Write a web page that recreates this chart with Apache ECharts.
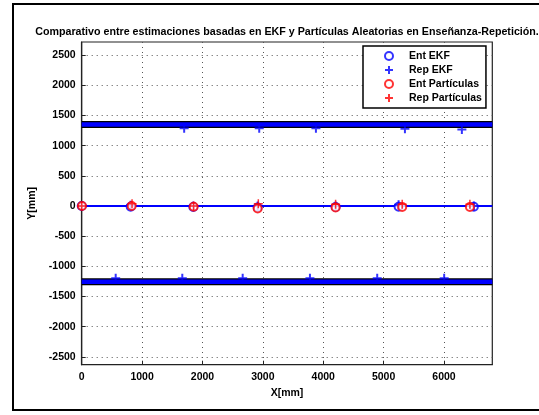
<!DOCTYPE html>
<html><head><meta charset="utf-8">
<script src="https://cdn.jsdelivr.net/npm/echarts@6/dist/echarts.min.js"></script>
<style>html,body{margin:0;padding:0;background:#fff}#c{width:539px;height:415px}</style>
</head><body><div id="c"></div>
<script>
const titleText = 'Comparativo entre estimaciones basadas en EKF y Partículas Aleatorias en Enseñanza-Repetición.';
const xTicks = [0, 1000, 2000, 3000, 4000, 5000, 6000];
const yTicks = [-2500, -2000, -1500, -1000, -500, 0, 500, 1000, 1500, 2000, 2500];
const xRange = [0, 6800];
const yRange = [-2630, 2720];
// walls (thick bands) and middle path
const wallUpper = [[0, 1351], [6800, 1351]];
const wallLower = [[0, -1253], [6800, -1253]];
const midPath = [[0, 0], [6800, 0]];
// series
const entEKF = [[0, 0], [811, -10], [1848, -15], [2914, -25], [4205, -15], [5248, -10], [6495, -10]];
const repEKF = [[1697, 1290], [2940, 1290], [3879, 1290], [5353, 1280], [6296, 1270],
                [563, -1195], [1666, -1195], [2666, -1195], [3780, -1195], [4894, -1195], [6003, -1195],
                [0, 0], [811, 15], [1848, 0], [2914, 0], [4205, 0], [5248, 20], [6495, 0]];
const entPart = [[5, 0], [828, 0], [1854, -10], [2914, -40], [4205, -25], [5308, -15], [6429, -15]];
const repPart = [[0, 0], [834, 40], [1854, 0], [2925, 40], [4205, 30], [5308, 30], [6429, 30]];

const plusPath = 'path://M5,0L5,10M0,5L10,5';
const font = '"Liberation Sans", Arial, sans-serif';
const fmt = v => String(v);
const chart = echarts.init(document.getElementById('c'), null, {renderer: 'canvas'});
chart.setOption({
  animation: false,
  backgroundColor: '#fff',
  title: {text: titleText, left: 282, top: 22, textAlign: 'center',
    textStyle: {fontFamily: font, fontSize: 10.7, fontWeight: 'bold', color: '#000'}},
  graphic: [{type: 'rect', shape: {x: 13, y: 4, width: 540, height: 406},
    style: {fill: 'none', stroke: '#000', lineWidth: 2}, z: -10}],
  grid: {left: 81.7, right: 46.7, top: 42, bottom: 50.3, show: true, borderColor: '#222', borderWidth: 1.2, backgroundColor: 'transparent'},
  legend: {
    orient: 'vertical', left: 363, top: 46, padding: [4, 4, 4, 21], itemGap: 2,
    itemWidth: 8, itemHeight: 8,
    backgroundColor: '#fff', borderColor: '#000', borderWidth: 1.5,
    textStyle: {fontFamily: font, fontSize: 10.5, fontWeight: 'bold', color: '#000', padding: [0, 0, 0, 11], lineHeight: 12},
    data: ['Ent EKF', 'Rep EKF', 'Ent Partículas', 'Rep Partículas']
  },
  xAxis: {
    type: 'value', min: xRange[0], max: xRange[1], interval: 1000,
    name: 'X[mm]', nameLocation: 'middle', nameGap: 20,
    nameTextStyle: {fontFamily: font, fontSize: 10.5, fontWeight: 'bold', color: '#000'},
    axisLine: {onZero: false, lineStyle: {color: '#222', width: 1.2}},
    axisTick: {show: true, inside: true, length: 4, lineStyle: {color: '#222'}, customValues: xTicks},
    axisLabel: {fontFamily: font, fontSize: 10.5, fontWeight: 'bold', color: '#000', margin: 7, customValues: xTicks, formatter: fmt},
    splitLine: {show: true, lineStyle: {color: '#555', type: [1, 4], width: 1}}
  },
  yAxis: {
    type: 'value', min: yRange[0], max: yRange[1],
    name: 'Y[mm]', nameLocation: 'middle', nameGap: 33, nameRotate: 90,
    nameTextStyle: {fontFamily: font, fontSize: 10.5, fontWeight: 'bold', color: '#000'},
    axisLine: {onZero: false, lineStyle: {color: '#222', width: 1.2}},
    axisTick: {show: true, inside: true, length: 4, lineStyle: {color: '#222'}, customValues: yTicks},
    axisLabel: {fontFamily: font, fontSize: 10.5, fontWeight: 'bold', color: '#000', margin: 6, customValues: yTicks, formatter: fmt},
    splitLine: {show: true, lineStyle: {color: '#555', type: [1, 4], width: 1}}
  },
  series: [
    {type: 'line', name: 'wallU_border', data: wallUpper, symbol: 'none', lineStyle: {color: '#000', width: 7}, z: 2, silent: true},
    {type: 'line', name: 'wallU', data: wallUpper, symbol: 'none', lineStyle: {color: '#0000ff', width: 4.5}, z: 3, silent: true},
    {type: 'line', name: 'wallL_border', data: wallLower, symbol: 'none', lineStyle: {color: '#000', width: 7}, z: 2, silent: true},
    {type: 'line', name: 'wallL', data: wallLower, symbol: 'none', lineStyle: {color: '#0000ff', width: 4.5}, z: 3, silent: true},
    {type: 'line', name: 'mid', data: midPath, symbol: 'none', lineStyle: {color: '#0000ff', width: 2}, z: 3, silent: true},
    {type: 'scatter', name: 'Ent EKF', data: entEKF, symbol: 'emptyCircle', symbolSize: 8,
      itemStyle: {color: '#0000ff', borderColor: '#0000ff', borderWidth: 1.3}, z: 5},
    {type: 'scatter', name: 'Rep EKF', data: repEKF, symbol: plusPath, symbolSize: 9,
      itemStyle: {color: 'transparent', borderColor: '#0000ff', borderWidth: 2}, z: 5},
    {type: 'scatter', name: 'Ent Partículas', data: entPart, symbol: 'emptyCircle', symbolSize: 8,
      itemStyle: {color: '#ff0000', borderColor: '#ff0000', borderWidth: 1.3}, z: 6},
    {type: 'scatter', name: 'Rep Partículas', data: repPart, symbol: plusPath, symbolSize: 9,
      itemStyle: {color: 'transparent', borderColor: '#ff0000', borderWidth: 1.5}, z: 6}
  ]
});
</script></body></html>
